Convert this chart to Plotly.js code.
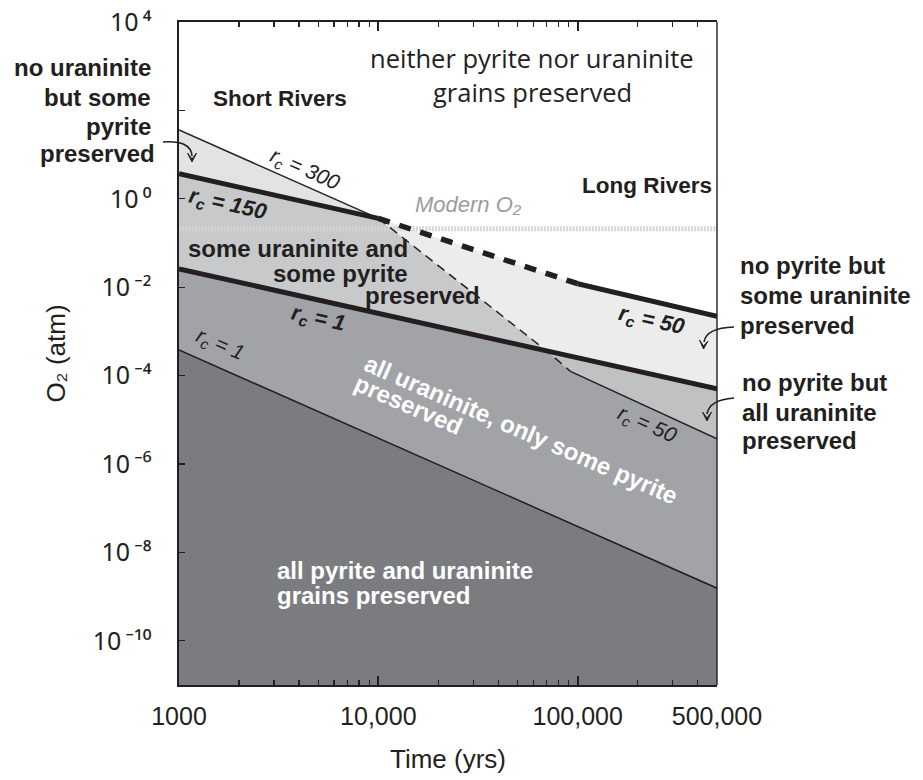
<!DOCTYPE html>
<html>
<head>
<meta charset="utf-8">
<script src="https://cdn.plot.ly/plotly-3.0.1.min.js"></script>
<style>html,body{margin:0;padding:0;background:#fff;}#chart{width:923px;height:780px;}</style>
</head>
<body>
<div id="chart"></div>
<script>
// ---- data (time in years, O2 in atm) ----
const timeShort = [1000, 10000];
const rc300Pyrite = [36, 0.36];
const rc150Uraninite = [3.7, 0.36];
const timeFull = [1000, 500000];
const rc1Uraninite = [0.026, 5.0e-5];
const rc1Pyrite = [3.8e-4, 1.55e-9];
const timeMid = [10000, 100000];
const rc50UraniniteDashed = [0.36, 0.012];
const timeLong = [100000, 500000];
const rc50Uraninite = [0.012, 0.0022];
const timeTransition = [10000, 70000, 92000];
const transitionPyrite = [0.36, 3.6e-4, 1.25e-4];
const timeLongPyrite = [92000, 500000];
const rc50Pyrite = [1.25e-4, 3.7e-6];
const modernO2 = 0.21;
const yFloor = 1e-12;

const xTickVals = [1000, 10000, 100000, 500000];
const xTickText = ['1000', '10,000', '100,000', '500,000'];
const xMinorVals = [2000,3000,4000,5000,6000,7000,8000,9000,20000,30000,40000,50000,60000,70000,80000,90000,200000,300000,400000];
const yTickVals = [1e4, 1e0, 1e-2, 1e-4, 1e-6, 1e-8, 1e-10];
const yTickText = ['10\u2009\u2074', '10\u2009\u2070', '10\u2009\u207b\u00b2', '10\u2009\u207b\u2074', '10\u2009\u207b\u2076', '10\u2009\u207b\u2078', '10\u2009\u207b\u00b9\u2070'];
const yMinorVals = [1e2];

// ---- styling ----
const INK = '#231f20';
const FONT = 'Liberation Sans, Arial, Helvetica, sans-serif';
const M = {l: 179, r: 206, t: 22, b: 95};
const PW = 923 - M.l - M.r, PH = 780 - M.t - M.b;
const px = x => (x - M.l) / PW;
const py = y => (780 - M.b - y) / PH;

function fillTrace(xs, ys, color) {
  return {x: xs, y: ys, mode: 'lines', fill: 'toself', fillcolor: color,
          line: {width: 0, color: color}, hoverinfo: 'skip', showlegend: false};
}
function lineTrace(xs, ys, width, dash, color) {
  return {x: xs, y: ys, mode: 'lines', line: {width: width, dash: dash || 'solid', color: color || INK},
          hoverinfo: 'skip', showlegend: false};
}

const traces = [
  // regions
  fillTrace([timeFull[0], timeFull[1], timeFull[1], timeFull[0]],
            [rc1Pyrite[0], rc1Pyrite[1], yFloor, yFloor], '#7b7c80'),
  fillTrace([timeFull[0], timeTransition[1], timeTransition[2], timeLongPyrite[1], timeFull[1], timeFull[0]],
            [rc1Uraninite[0], transitionPyrite[1], transitionPyrite[2], rc50Pyrite[1], rc1Pyrite[1], rc1Pyrite[0]], '#a1a3a6'),
  fillTrace([timeShort[0], timeShort[1], timeTransition[1], timeFull[0]],
            [rc150Uraninite[0], rc150Uraninite[1], transitionPyrite[1], rc1Uraninite[0]], '#c8c9cb'),
  fillTrace([timeTransition[1], timeFull[1], timeLongPyrite[1], timeTransition[2]],
            [transitionPyrite[1], rc1Uraninite[1], rc50Pyrite[1], transitionPyrite[2]], '#bfc1c3'),
  fillTrace([timeShort[0], timeShort[1], timeShort[0]],
            [rc300Pyrite[0], rc300Pyrite[1], rc150Uraninite[0]], '#e2e3e4'),
  fillTrace([timeMid[0], timeMid[1], timeLong[1], timeFull[1], timeTransition[1]],
            [rc50UraniniteDashed[0], rc50UraniniteDashed[1], rc50Uraninite[1], rc1Uraninite[1], transitionPyrite[1]], '#ececec'),
  // modern O2
  lineTrace(timeFull, [modernO2, modernO2], 5, '2px,1.2px', '#d3d4d6'),
  // boundaries
  lineTrace(timeShort, rc300Pyrite, 1.5),
  lineTrace(timeShort, rc150Uraninite, 5),
  lineTrace(timeFull, rc1Uraninite, 5),
  lineTrace(timeMid, rc50UraniniteDashed, 5.5, '12px,10px'),
  lineTrace(timeLong, rc50Uraninite, 5),
  lineTrace(timeTransition, transitionPyrite, 1.5, '9px,6px'),
  lineTrace(timeLongPyrite, rc50Pyrite, 1.5),
  lineTrace(timeFull, rc1Pyrite, 1.5)
];

function ann(text, x, y, o) {
  o = o || {};
  return {
    text: text, xref: 'paper', yref: 'paper', x: px(x), y: py(y),
    xanchor: o.xa || 'center', yanchor: 'middle', showarrow: false,
    textangle: o.angle || 0, align: o.align || 'center',
    font: {family: o.family || FONT, size: o.size || 24, color: o.color || INK,
           weight: o.bold ? 'bold' : 'normal', style: o.italic ? 'italic' : 'normal'}
  };
}
const rc = v => 'r<sub>c</sub> = ' + v;

const annotations = [
  ann('neither pyrite nor uraninite', 532, 58, {family: 'Open Sans, sans-serif', size: 25.5}),
  ann('grains preserved', 532, 92, {family: 'Open Sans, sans-serif', size: 25.5}),
  ann('Short Rivers', 280, 98, {size: 22.5, bold: true}),
  ann('Long Rivers', 647, 185, {size: 22.5, bold: true}),
  ann('no uraninite', 153, 68, {xa: 'right', bold: true}),
  ann('but some', 153, 97, {xa: 'right', bold: true}),
  ann('pyrite', 153, 126, {xa: 'right', bold: true}),
  ann('preserved', 157, 154, {xa: 'right', bold: true}),
  ann('Modern O\u2082', 413, 204, {xa: 'left', size: 22, color: '#9b9c9e', italic: true}),
  ann(rc('300'), 305, 170, {angle: 23.8, size: 21, italic: true}),
  ann(rc('150'), 228, 205, {angle: 12.7, size: 22, bold: true, italic: true}),
  ann('some uraninite and', 410, 248, {xa: 'right', bold: true}),
  ann('some pyrite', 410, 273, {xa: 'right', bold: true}),
  ann('preserved', 363, 295, {xa: 'left', bold: true}),
  ann(rc('1'), 318, 319, {angle: 12.7, size: 22, bold: true, italic: true}),
  ann(rc('1'), 220, 345, {angle: 23.8, size: 21, italic: true}),
  ann('all uraninite, only some pyrite', 521, 429, {angle: 23.5, color: '#ffffff', bold: true}),
  ann('preserved', 408, 405, {angle: 23.5, color: '#ffffff', bold: true}),
  ann(rc('50'), 651, 321, {angle: 12.7, size: 22, bold: true, italic: true}),
  ann(rc('50'), 647, 425, {angle: 23.8, size: 21, italic: true}),
  ann('all pyrite and uraninite', 275, 570, {xa: 'left', color: '#ffffff', bold: true}),
  ann('grains preserved', 275, 595, {xa: 'left', color: '#ffffff', bold: true}),
  ann('no pyrite but', 738, 265, {xa: 'left', bold: true}),
  ann('some uraninite', 738, 295, {xa: 'left', bold: true}),
  ann('preserved', 738, 325, {xa: 'left', bold: true}),
  ann('no pyrite but', 740, 382, {xa: 'left', bold: true}),
  ann('all uraninite', 740, 412, {xa: 'left', bold: true}),
  ann('preserved', 740, 440, {xa: 'left', bold: true})
];

function P(x, y) { return px(x).toFixed(5) + ',' + py(y).toFixed(5); }
function curve(x0, y0, cx, cy, x1, y1) {
  return {type: 'path', xref: 'paper', yref: 'paper', path: 'M' + P(x0, y0) + ' Q' + P(cx, cy) + ' ' + P(x1, y1),
          line: {color: INK, width: 1.6}};
}
function head(ax, ay, tx, ty, bx, by) {
  return {type: 'path', xref: 'paper', yref: 'paper', path: 'M' + P(ax, ay) + ' L' + P(tx, ty) + ' L' + P(bx, by) + ' L' + P(tx, ty - 3) + ' Z',
          fillcolor: INK, line: {color: INK, width: 1}};
}

const shapes = [
  {type: 'line', xref: 'paper', yref: 'paper', x0: 1, x1: 1, y0: 0, y1: 1, line: {color: INK, width: 1.4}},
  curve(163, 142, 191, 140, 192, 156), head(187.5, 153, 192, 162, 196.5, 153),
  curve(734, 327, 706, 328, 704, 342), head(699.5, 340, 703.5, 349, 708, 341),
  curve(734, 398, 709, 400, 707, 414), head(702.5, 412, 707, 421, 711.5, 412)
];

const layout = {
  width: 923, height: 780,
  margin: M,
  paper_bgcolor: '#ffffff', plot_bgcolor: '#ffffff',
  showlegend: false, hovermode: false,
  font: {family: FONT, color: INK},
  xaxis: {
    type: 'log', range: [3, Math.log10(500000)],
    tickmode: 'array', tickvals: xTickVals, ticktext: xTickText,
    ticks: 'inside', ticklen: 9, tickwidth: 2, tickcolor: INK,
    minor: {tickmode: 'array', tickvals: xMinorVals, ticks: 'inside', ticklen: 5, tickwidth: 1.3, tickcolor: INK, showgrid: false},
    showline: true, linewidth: 2, linecolor: INK, mirror: 'allticks',
    showgrid: false, zeroline: false,
    tickfont: {family: FONT, size: 25, color: INK}, ticklabelstandoff: 8,
    title: {text: 'Time (yrs)', font: {family: FONT, size: 26, color: INK}, standoff: 21}
  },
  yaxis: {
    type: 'log', range: [-11, 4],
    tickmode: 'array', tickvals: yTickVals, ticktext: yTickText,
    ticks: 'inside', ticklen: 6, tickwidth: 1.3, tickcolor: INK,
    minor: {tickmode: 'array', tickvals: yMinorVals, ticks: 'inside', ticklen: 6, tickwidth: 1.3, tickcolor: INK, showgrid: false},
    showline: true, linewidth: 2.5, linecolor: INK, mirror: false,
    showgrid: false, zeroline: false,
    tickfont: {family: 'Noto Sans, DejaVu Sans, sans-serif', size: 25, color: INK}, ticklabelstandoff: 20,
    title: {text: 'O\u2082 (atm)', font: {family: FONT, size: 26, color: INK}, standoff: 20}
  },
  annotations: annotations,
  shapes: shapes
};

Plotly.newPlot('chart', traces, layout, {displayModeBar: false, staticPlot: true});
</script>
</body>
</html>
